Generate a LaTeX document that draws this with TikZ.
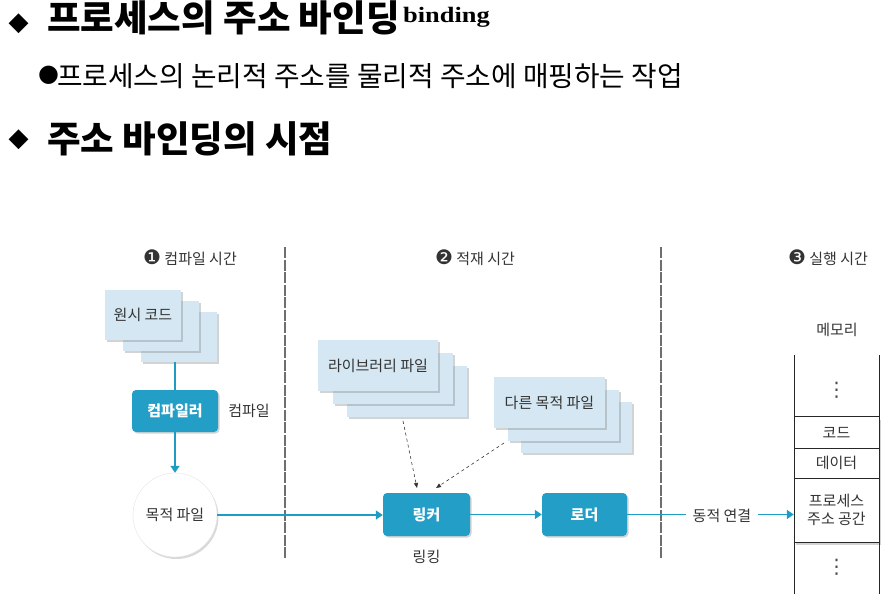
\documentclass[tikz,border=0pt]{standalone}
\usepackage{fontspec}
\setmainfont{Noto Sans CJK KR}
\newfontfamily\dejavu{DejaVu Sans}
\newfontfamily\tnr[FakeStretch=1.2]{Liberation Serif}
\usetikzlibrary{shadows,arrows.meta,calc}
\definecolor{tealbox}{HTML}{239FC7}
\definecolor{tealline}{HTML}{1F9CC4}
\definecolor{paperblue}{HTML}{D4E7F2}
\definecolor{txt}{HTML}{333333}
\definecolor{sepgray}{HTML}{6E6E6E}
\newcommand\dfont{\fontsize{15}{19}\selectfont}
\newcommand\cnum[1]{{\dejavu\fontsize{20}{20}\selectfont #1}}
\begin{document}
\begin{tikzpicture}[x=1pt,y=-1pt,
  every node/.style={inner sep=0pt, text=txt, font=\dfont},
  paper/.style={fill=paperblue, minimum width=#1, minimum height=51pt,
    drop shadow={shadow xshift=2pt, shadow yshift=-2pt, opacity=0.35}},
  procbox/.style={fill=tealbox, rounded corners=4pt, minimum width=#1, minimum height=43pt,
    text=white, font=\dfont\bfseries,
    drop shadow={shadow xshift=1.5pt, shadow yshift=-1.5pt, opacity=0.35}},
  flow/.style={draw=tealline, line width=1.6pt},
  flowarr/.style={flow, -{Triangle[width=9pt,length=7pt]}},
  darr/.style={draw=black!80, dashed, line width=0.6pt, -{Triangle[width=4pt,length=5pt]}},
  sep/.style={draw=sepgray, line width=2.5pt, dash pattern=on 11pt off 1.5pt},
  memline/.style={draw=black!85, line width=0.8pt},
  hdr/.style={font=\fontsize{36.5}{40}\selectfont\bfseries, text=black, anchor=base west},
  symb/.style={font=\dejavu\fontsize{26}{30}\selectfont, text=black},
  vdot/.style={font=\dejavu\fontsize{20}{22}\selectfont, text=black!70}
]
\useasboundingbox (0,0) rectangle (887,594);

% ---------- headings ----------
\node[symb] (m1) at (18.5,24) {◆};
\node[hdr] (t1) at (47,32) {프로세스의 주소 바인딩};
\node[anchor=base west, font=\tnr\bfseries\fontsize{22}{24}\selectfont, text=black] (b1) at (403,23) {binding};
\node[font=\dejavu\fontsize{24}{28}\selectfont, text=black] (bul) at (48.5,75) {●};
\node[anchor=base west, font=\fontsize{27.8}{30}\selectfont, text=black] (t2) at (57,87) {프로세스의 논리적 주소를 물리적 주소에 매핑하는 작업};
\node[symb] (m2) at (18.5,140) {◆};
\node[hdr] (t3) at (47,152) {주소 바인딩의 시점};

% ---------- column headers ----------
\node (h1) at (190,258) {\cnum{❶} 컴파일 시간};
\node (h2) at (475,258) {\cnum{❷} 적재 시간};
\node (h3) at (828,258) {\cnum{❸} 실행 시간};

% ---------- separators ----------
\coordinate (s1a) at (285,247); \coordinate (s1b) at (285,558);
\coordinate (s2a) at (661,247); \coordinate (s2b) at (661,558);
\draw[sep] (s1a) -- (s1b);
\draw[sep] (s2a) -- (s2b);

% ---------- compile time ----------
\node[paper=76pt, minimum height=50pt] (src3) at (179,337) {};
\node[paper=76pt, minimum height=50pt] (src2) at (161,326) {};
\node[paper=76pt, minimum height=50pt] (src1) at (143,315) {원시 코드};
\node[procbox=86pt, minimum height=42pt] (comp) at (175,411) {컴파일러};
\node (compl) at (249,411) {컴파일};
\node[circle, fill=white, draw=black!10, minimum size=84pt,
  drop shadow={shadow xshift=1.5pt, shadow yshift=-2pt, opacity=0.3}] (obj) at (175,515) {목적 파일};
\draw[flow] (src3.south -| comp.north) -- (comp.north);
\draw[flowarr] (comp.south) -- (obj.north);

% ---------- load time ----------
\node[paper=120pt] (lib3) at (407,391.5) {};
\node[paper=120pt] (lib2) at (392.5,378.5) {};
\node[paper=120pt] (lib1) at (378,365.5) {라이브러리 파일};
\node[paper=111pt] (oth3) at (576.5,427.5) {};
\node[paper=111pt] (oth2) at (563,415) {};
\node[paper=111pt] (oth1) at (549.5,402.5) {다른 목적 파일};
\node[procbox=87pt] (link) at (426.5,514.5) {링커};
\node (linkl) at (426.5,557) {링킹};
\node[procbox=85pt] (load) at (584.5,514.5) {로더};
\coordinate (d1s) at (403,421);
\coordinate (d1e) at (417,488);
\coordinate (d2s) at (504,443);
\coordinate (d2e) at (436,488);
\draw[darr] (d1s) -- (d1e);
\draw[darr] (d2s) -- (d2e);
\draw[flowarr] (obj.east) -- (obj.east -| link.west);
\draw[flowarr] (link.east) -- (load.west);

% ---------- run time ----------
\node (memt) at (837,330) {메모리};
\coordinate (ml1) at (794,355); \coordinate (ml2) at (794,594);
\coordinate (mr1) at (879,355); \coordinate (mr2) at (879,594);
\node[fill=white, minimum width=85pt, minimum height=125pt,
  drop shadow={shadow xshift=1.5pt, shadow yshift=-2.5pt, opacity=0.35}] (blk) at (836.5,479.5) {};
\draw[memline] (ml1) -- (ml2);
\draw[memline] (mr1) -- (mr2);
\draw[memline] (blk.north west) -- (blk.north east);
\draw[memline] (blk.south west) -- (blk.south east);
\coordinate (c1l) at (794,448); \coordinate (c1r) at (879,448);
\coordinate (c2l) at (794,478); \coordinate (c2r) at (879,478);
\draw[memline] (c1l) -- (c1r);
\draw[memline] (c2l) -- (c2r);
\node (code) at (836.5,433) {코드};
\node (data) at (836.5,463) {데이터};
\node[align=center] (pas) at (836.5,510) {프로세스\\[-1pt]주소 공간};
\node[vdot] (dots1) at (836.5,390) {⋮};
\node[vdot] (dots2) at (836.5,567) {⋮};
\node (dyn) at (722,516) {동적 연결};
\coordinate (dynl) at (686,514.5);
\coordinate (dynr) at (758,514.5);
\draw[flow] (load.east) -- (dynl);
\draw[flowarr] (dynr) -- (blk.west |- dynr);
\end{tikzpicture}
\end{document}
